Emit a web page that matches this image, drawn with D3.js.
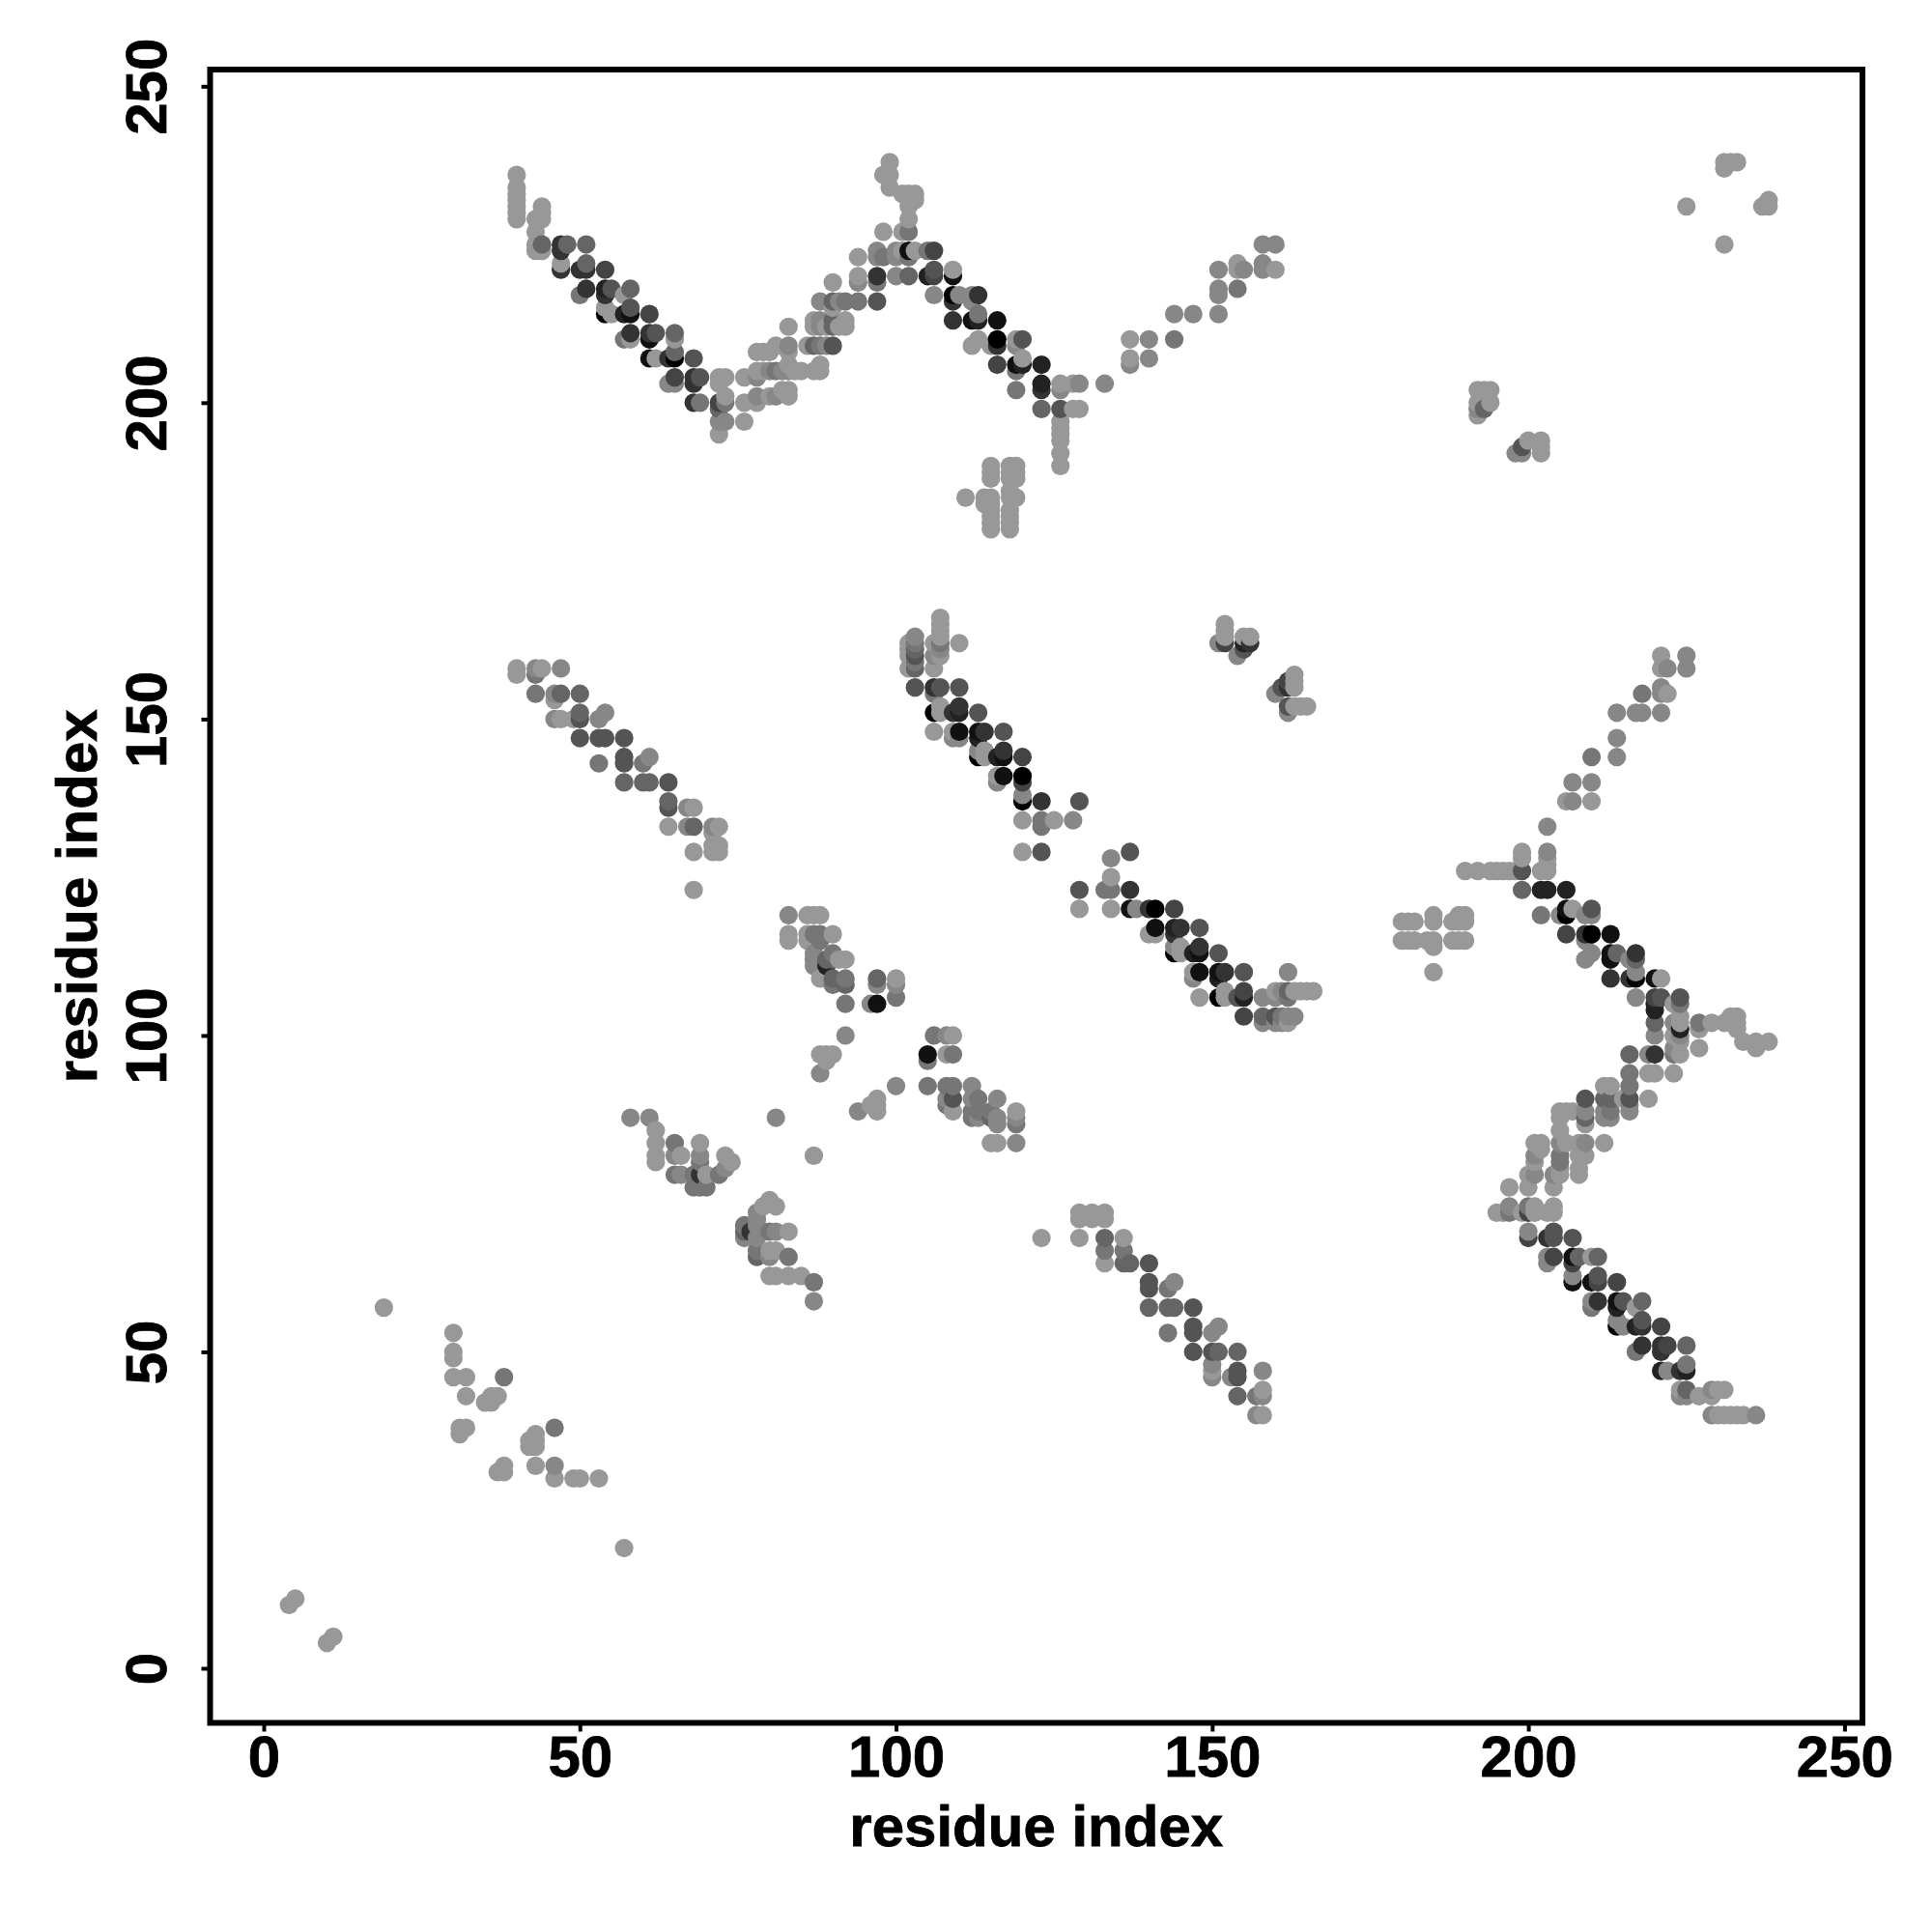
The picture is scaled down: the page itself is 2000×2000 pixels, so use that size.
<!DOCTYPE html>
<html><head><meta charset="UTF-8"><title>residue contacts</title>
<script src="https://cdn.jsdelivr.net/npm/d3@7/dist/d3.min.js"></script>
<style>
  body, html { margin: 0; padding: 0; background: #fff; }
  text { font-family: "Liberation Sans", Arial, sans-serif; font-weight: bold; fill: #000; stroke: #000; stroke-width: 0.8px; }
</style>
</head>
<body>
<div id="chart"></div>
<script>
// every contact is [residue i, residue j, strength]; strength 0 is weak, 9 is strong
const axisLabel = "residue index";
const tickValues = [0, 50, 100, 150, 200, 250];

const upperLeftArm = [
  [40,236,0],[40,234,0],[40,233,0],[40,232,0],[40,231,0],[40,230,0],[40,229,0],
  [43,229,0],[43,227,0],[43,225,0],[43,224,0],
  [44,231,0],[44,230,0],[44,229,0],[44,225,3],[44,224,0],
  [47,225,6],[47,224,6],[47,222,0],[47,221,6],[48,225,3],[51,225,3],
  [50,221,6],[51,222,3],[51,221,6],[54,221,5],
  [50,217,2],[51,218,6],[54,218,7],[55,218,4],[58,218,3],[54,217,6],[57,217,0],
  [54,215,0],[55,214,0],[54,214,9],[57,214,7],[58,214,8],[58,215,4],[61,214,5],
  [57,210,2],[58,211,6],[58,210,0],[61,211,6],[62,211,4],[61,210,8],[65,211,3],[65,210,0],
  [65,208,3],[65,207,9],[64,207,6],[61,207,8],[62,207,0],[68,207,4],
  [64,203,1],[65,203,1],[65,204,5],[68,204,6],[69,204,4],[68,203,6],[68,200,6],[69,200,2]
];

const upperValley = [
  [72,204,0],[73,204,0],[72,203,0],[73,201,0],[72,200,5],[73,200,2],[72,199,3],
  [72,197,1],[73,197,1],[72,195,0],[76,204,0],[76,200,0],[76,197,0],
  [78,208,0],[79,208,0],[80,208,0],[81,209,0],[83,212,0],[83,209,1],[83,208,0],
  [78,205,0],[78,204,1],[79,205,0],[80,205,1],[81,205,2],[82,205,1],[83,205,1],[83,206,0],
  [84,205,0],[85,205,0],[87,205,0],[88,205,0],[88,206,0],
  [78,201,1],[78,200,0],[80,201,0],[81,201,1],[82,202,0],[83,201,0],[83,202,0],
  [86,209,0],[87,209,3],[88,209,2],[89,209,1],[90,209,4],
  [87,213,0],[87,212,0],[88,213,1],[88,212,1],[89,212,0],[90,213,3],[90,212,3],
  [92,213,0],[92,212,0],[91,212,0],
  [88,216,1],[90,216,3],[91,216,1],[92,216,2],[94,216,2],[97,216,4],[90,219,0],[90,215,0],
  [94,223,0],[94,220,0],[94,219,1],[97,220,6],[97,219,2],[97,224,1],[97,223,1],[98,223,2],
  [98,227,0],[99,238,0],[98,236,0],[99,236,0],[99,234,0],
  [101,233,0],[102,233,0],[103,233,0],[103,232,0],[102,232,0],[102,231,0],
  [102,229,0],[102,227,2],[101,227,0]
];

const upperRightArm = [
  [100,224,1],[100,223,1],[101,224,0],[102,224,8],[103,224,0],[102,223,2],[105,224,2],[106,224,5],
  [100,220,1],[102,220,3],[105,220,7],[106,221,4],[106,220,5],[109,221,0],[109,220,8],
  [106,217,1],[109,217,9],[109,216,6],[110,217,1],[112,217,1],[113,217,6],
  [109,213,6],[112,213,8],[113,213,7],[113,214,2],[112,216,1],[116,213,8],
  [112,209,0],[113,210,0],[115,209,0],[116,210,9],[116,209,6],
  [119,210,0],[120,210,4],[119,209,1],[116,206,5],[119,206,8],[120,207,0],[120,206,7],
  [119,205,2],[119,202,2],[123,206,7],[123,203,7],[123,202,6],[123,199,3],
  [126,203,0],[126,202,1],[128,203,0],[129,203,1],[133,203,1],[126,199,4],[128,199,0],[129,199,0],
  [126,197,0],[126,196,0],[126,195,0],[126,194,0],[126,192,0],[126,190,0],
  [137,210,0],[140,210,1],[144,210,2],[137,207,0],[137,206,1],[140,207,1],
  [144,214,1],[147,214,1],[151,214,1],[151,218,1],[151,217,1],[154,218,2],[151,221,1],
  [154,222,0],[154,221,0],[155,221,1],[158,222,1],[158,221,1],[160,221,0],[158,225,1],[160,225,1]
];

const upperPatch = [
  [111,185,0],[114,185,0],[115,185,0],[114,184,0],[115,184,0],
  [115,190,0],[115,189,0],[115,188,0],[118,190,0],[119,190,0],[118,189,0],[119,189,0],[118,188,0],[119,188,0],
  [118,186,0],[118,185,0],[119,185,0],[115,183,0],[115,182,0],[115,181,0],[115,180,0],
  [118,183,0],[118,182,0],[118,181,0],[118,180,0]
];

const farCorner = [
  [225,231,0],[231,225,0],[231,238,0],[231,237,0],[232,238,0],[233,238,0],
  [237,231,0],[238,231,0],[238,232,0],
  [192,202,0],[193,202,0],[194,202,0],[194,200,0],[192,200,0],[192,199,1],[192,198,0],[193,199,3],
  [198,192,1],[199,192,1],[199,193,4],[200,194,0],[202,194,0],[202,193,0],[202,192,0]
];

const midLeftDiag = [
  [40,158,0],[40,157,0],[43,158,1],[43,157,2],[44,158,0],[47,158,1],
  [43,154,2],[46,154,1],[47,154,3],[46,153,0],[50,154,3],
  [46,150,1],[47,150,0],[49,150,0],[50,151,3],[50,150,4],[53,150,1],[54,151,1],
  [50,147,4],[53,147,4],[54,147,4],[57,147,4],
  [53,143,2],[57,144,4],[57,143,4],[60,143,2],[61,144,1],
  [57,140,3],[60,140,3],[61,140,3],[64,140,4],
  [64,137,3],[64,136,4],[67,136,1],[68,136,0],
  [64,133,0],[67,133,1],[68,133,3],[71,133,1],[72,133,0],[71,132,0],[72,130,0],[72,129,0],[71,130,0],[71,129,0],
  [68,129,0],[68,123,0]
];

const centreLeftPatch = [
  [83,119,1],[86,119,0],[87,119,0],[88,119,0],[83,116,0],[83,115,0],[86,116,0],[86,115,0],
  [87,116,2],[88,116,2],[88,115,2],[90,116,0],
  [87,113,1],[87,112,1],[87,111,1],[90,113,2],[89,112,3],[90,112,3],[89,111,7],[92,112,0],[91,112,0],
  [88,109,0],[90,109,3],[90,108,2],[92,109,2],[92,108,3],
  [97,109,3],[97,108,1],[100,109,0],[100,108,1],[100,106,2],
  [92,105,2],[96,105,1],[97,105,8],[92,100,1],
  [88,97,0],[89,97,0],[90,97,0],[89,96,0],[88,94,1],
  [100,92,1],[94,88,1],[96,89,0],[97,90,0],[97,89,0],[97,88,0],
  [106,100,2],[108,100,1],[109,100,0],[105,97,8],[105,96,2],[108,97,0],[109,97,2],
  [105,92,2],[108,92,2],[109,92,2],[108,90,1],[109,90,4],[108,89,2],[109,88,0]
];

const centreDiagLower = [
  [112,92,1],[112,90,1],[113,90,2],[116,90,1],[112,88,2],[113,88,2],[115,88,2],
  [112,87,2],[113,87,1],[116,87,1],[115,87,3],[119,88,0],[119,87,1],[119,86,2],[116,86,1],
  [115,83,0],[116,83,0],[119,83,1]
];

const lowerLeftPatch = [
  [58,87,1],[61,87,1],[62,85,0],[62,83,0],[62,81,0],[62,80,0],
  [65,83,2],[65,81,1],[66,81,0],[65,78,2],[66,78,1],
  [69,83,0],[69,81,1],[69,80,2],[68,78,2],[69,78,6],[68,76,2],[69,76,2],[70,76,2],
  [70,78,0],[72,78,2],[73,81,0],[74,80,0],[73,79,1],
  [81,87,1],[87,81,0],
  [80,74,0],[79,73,0],[81,73,0],[78,72,1],[78,71,1],[76,70,2],[76,69,3],[76,68,1],
  [77,69,6],[78,70,1],[78,68,1],[80,69,2],[81,69,1],[83,69,0],
  [78,66,2],[78,65,3],[80,66,0],[81,66,0],[80,65,1],[83,65,2],
  [80,62,0],[81,62,0],[83,62,0],[85,62,0],[87,61,2],[87,58,1]
];

const bottomLeftScatter = [
  [19,57,0],[30,53,0],[30,50,0],[30,49,0],[30,46,0],[32,46,0],[38,46,2],[32,43,0],[37,43,0],
  [35,42,0],[36,42,0],[36,43,0],[32,38,0],[31,38,0],[31,37,0],[38,32,0],[37,31,0],[38,31,0],
  [43,37,0],[42,36,0],[43,36,0],[42,35,0],[43,35,0],[46,38,2],[43,32,0],[46,32,1],[46,30,0],
  [49,30,0],[50,30,0],[53,30,0],[57,19,0],[5,11,0],[4,10,0],[11,5,0],[10,4,0]
];

const lowerMidDiag = [
  [129,72,0],[131,72,0],[133,72,0],[129,71,0],[131,71,0],[133,71,0],[123,68,0],[129,68,0],
  [133,68,3],[133,66,2],[136,68,0],[136,66,2],[133,64,0],[136,64,3],[137,64,3],[140,64,4],
  [140,61,4],[140,60,4],[143,60,2],[144,61,1],[140,57,3],[143,57,3],[144,57,3],[147,57,4],
  [143,53,2],[147,54,4],[147,53,4],[150,53,1],[151,54,1],
  [147,50,4],[150,50,4],[151,50,3],[154,50,3],[150,48,1],[150,47,0],[150,46,1],[153,46,1],
  [154,47,4],[154,46,4],[158,47,1],[154,43,3],[157,43,2],[158,44,0],[158,43,1],[157,40,1],[158,40,0]
];

const centreDiagUpper = [
  [107,166,0],[107,165,0],[107,164,0],[107,163,0],[107,162,2],[107,161,1],
  [103,163,1],[103,162,2],[103,161,3],[103,160,4],[103,159,2],
  [102,162,0],[102,161,0],[102,160,0],[102,158,0],[103,158,3],
  [106,162,0],[106,160,1],[106,158,0],[107,160,0],[110,162,0],
  [103,155,4],[106,155,6],[107,155,4],[110,155,4],[106,154,2],
  [106,151,9],[107,152,0],[107,151,0],[109,151,6],[110,152,6],[110,151,7],[113,151,4],
  [106,148,0],[109,148,0],[110,148,8],[110,147,1],[109,147,1],[113,148,8],[114,148,6],[113,147,7],[117,148,4],
  [113,144,9],[113,145,1],[114,145,0],[114,144,0],[116,144,7],[117,145,6],[117,144,8],[120,144,5],
  [116,141,0],[116,140,1],[117,141,8],[120,141,9],[120,140,5],
  [120,138,1],[120,137,9],[123,137,6],[129,137,4],
  [120,134,0],[123,134,2],[123,133,2],[125,134,0],[128,134,1],[120,129,0],[123,129,4]
];

const centreDiagRun = [
  [134,128,1],[137,129,4],[134,125,0],[129,123,4],[133,123,2],[134,123,2],[137,123,6],
  [129,120,0],[134,120,0],[137,120,8],[138,120,1],[140,120,6],[141,120,9],[144,120,5],
  [141,117,8],[140,116,0],[141,116,0],[144,117,7],[145,117,6],[144,116,6],[148,117,4],
  [144,113,9],[144,114,1],[145,114,0],[145,113,0],[147,113,7],[148,114,6],[148,113,8],[151,113,4],
  [147,110,0],[147,109,1],[148,110,8],[151,110,8],[152,110,6],[151,109,7],[155,110,4],
  [148,106,0],[151,106,9],[152,107,0],[152,106,0],[154,106,4],[155,107,5],[155,106,7],
  [155,103,5],[158,106,1],[158,103,3],[158,102,1],[160,107,0],[160,106,1],[160,103,4],[160,102,1],
  [161,107,1],[161,103,2],[161,102,1],[162,107,3],[162,106,2],[162,110,1],[162,103,1],[162,102,0],
  [163,107,0],[163,103,1],[164,107,0],[165,107,0],[166,107,0],
  [152,165,0],[152,164,0],[152,163,0],[152,162,5],[151,162,1],[154,160,1],[155,161,4],
  [155,162,7],[156,162,6],[155,163,0],[156,163,0],
  [160,154,1],[161,155,4],[162,155,6],[162,156,5],[163,157,0],[163,156,0],[163,155,0],
  [162,152,4],[162,151,1],[163,152,0],[164,152,0],[165,152,0]
];

const rightUpperArm = [
  [221,160,0],[225,160,1],[221,158,0],[222,158,1],[225,158,1],
  [221,155,1],[218,154,2],[221,154,1],[222,154,0],[214,151,1],[217,151,1],[218,151,1],[221,151,1],
  [214,147,1],[210,144,2],[214,144,1],[207,140,1],[210,140,1],[206,137,0],[207,137,1],[210,137,0],[203,133,1],
  [199,129,0],[199,128,0],[203,129,1],[203,128,0],
  [190,126,0],[192,126,0],[194,126,0],[195,126,0],[196,126,0],[197,126,0],[198,126,0],[199,126,4],
  [202,126,0],[203,126,0],[203,127,0],
  [180,118,0],[181,118,0],[182,118,0],[185,119,0],[185,118,0],[188,118,0],[189,119,0],[189,118,0],[190,119,0],[190,118,0],
  [180,115,0],[181,115,0],[182,115,0],[184,115,0],[185,115,0],[185,114,0],[188,115,0],[189,115,0],[190,115,0],[185,110,0]
];

const rightChevronTop = [
  [199,123,3],[202,123,7],[203,123,7],[206,123,7],
  [202,119,2],[205,119,1],[206,120,8],[206,119,9],[207,120,0],[209,119,1],[210,120,4],[210,119,1],
  [206,116,5],[209,116,6],[210,116,9],[213,116,8],[209,115,1],
  [209,112,1],[210,113,1],[213,113,8],[213,112,8],[214,113,3],[216,112,1],[217,113,6],[217,112,3],
  [213,109,6],[216,109,6],[217,110,1],[217,109,9],[220,109,8],[221,109,0],
  [217,106,1],[220,106,5],[221,106,4],[220,105,7],[220,104,7],[223,105,0],[224,106,4],[224,105,2],
  [220,102,3],[220,100,1],[223,102,1],[224,103,0],[224,102,0],[224,101,7],[224,100,1],[223,100,0],[224,99,0],
  [227,102,2],[227,101,0],[229,102,0],[231,102,0],[232,103,0],[233,103,0],[233,102,0],[233,101,0],
  [234,99,0],[236,99,0],[236,98,0],[238,99,0],[227,98,0],[223,98,1],[224,97,0],[223,97,2],
  [216,97,3],[219,97,1],[220,97,6],[216,94,2],[219,94,0],[220,94,0],[223,94,0]
];

const rightChevronMid = [
  [216,92,2],[216,90,4],[216,89,1],[216,88,1],[219,90,0],
  [213,92,0],[212,92,0],[213,90,3],[212,90,3],[213,88,2],[213,87,1],[212,88,1],[212,87,1],[215,90,0],
  [209,90,4],[209,88,1],[209,87,3],[209,86,0],
  [205,88,0],[206,88,0],[207,88,0],[205,87,0],[205,85,0],
  [201,83,0],[202,83,0],[205,83,1],[206,83,0],[208,83,0],[209,83,1],[212,83,0],
  [201,81,1],[205,81,2],[205,80,2],[208,81,0],[209,81,0],[201,80,0],[202,82,0],[208,79,0],[208,78,0],
  [205,79,0],[205,78,0],[204,78,1],[200,78,0],[201,78,1],[200,76,0],[204,76,0],[197,76,0],
  [195,72,0],[196,72,0],[197,73,1],[197,72,2],[200,73,2],[200,72,5],[201,73,0],[201,72,0],
  [203,72,0],[204,73,0],[204,72,0],[199,72,0]
];

const rightChevronLow = [
  [200,69,1],[200,68,5],[203,68,6],[204,69,4],[204,68,4],[207,68,4],
  [203,65,1],[203,64,1],[204,65,5],[207,65,8],[208,65,3],[207,64,5],[210,65,0],[211,65,3],
  [207,62,1],[207,61,8],[210,61,8],[211,62,4],[211,61,5],[214,61,5],
  [210,58,1],[210,57,2],[211,58,6],[214,58,8],[215,58,4],[214,57,7],[218,58,3],
  [217,57,0],[214,55,1],[215,54,1],[214,54,9],[217,54,7],[218,55,4],[218,54,6],[221,54,5],
  [217,50,2],[218,51,6],[221,51,6],[222,51,5],[221,50,6],[225,51,3],
  [221,47,7],[222,47,1],[224,47,6],[225,48,2],[225,47,7],
  [224,44,0],[225,44,3],[224,43,1],[225,43,1],[227,43,0],[229,44,1],[229,43,0],[230,44,0],[231,44,0],
  [229,40,1],[230,40,0],[231,40,0],[232,40,0],[233,40,0],[234,40,0],[236,40,1]
];

const contacts = [].concat(
  upperLeftArm, upperValley, upperRightArm, upperPatch, farCorner, midLeftDiag, centreLeftPatch,
  centreDiagLower, lowerLeftPatch, bottomLeftScatter, lowerMidDiag, centreDiagUpper, centreDiagRun,
  rightUpperArm, rightChevronTop, rightChevronMid, rightChevronLow
).sort((a, b) => a[0] - b[0] || a[1] - b[1]);

const svg = d3.select("#chart").append("svg")
  .attr("width", 2000)
  .attr("height", 2000)
  .style("display", "block");

const frame = { left: 217.5, right: 1928, top: 72, bottom: 1783.5 };

const x = d3.scaleLinear().domain([0, 250]).range([273, 1909.4]);
const y = d3.scaleLinear().domain([0, 250]).range([1727, 89.3]);
const shade = d3.scaleLinear().domain([0, 9]).range(["#989898", "#000000"]);

svg.append("g").selectAll("circle")
  .data(contacts)
  .enter().append("circle")
  .attr("cx", d => x(d[0]))
  .attr("cy", d => y(d[1]))
  .attr("r", 9.6)
  .attr("fill", d => shade(d[2]));

const xAxis = svg.append("g")
  .attr("transform", `translate(0,${frame.bottom})`)
  .call(d3.axisBottom(x).tickValues(tickValues).tickSize(9));
xAxis.select(".domain").remove();
xAxis.selectAll("line").attr("stroke", "#000").attr("stroke-width", 4);
xAxis.selectAll("text")
  .attr("y", 55.5).attr("dy", 0)
  .style("font-size", "60px");

const yAxis = svg.append("g")
  .attr("transform", `translate(${frame.left},0)`)
  .call(d3.axisLeft(y).tickValues(tickValues).tickSize(9));
yAxis.select(".domain").remove();
yAxis.selectAll("line").attr("stroke", "#000").attr("stroke-width", 4);
yAxis.selectAll("text")
  .attr("x", 0).attr("dy", 0).attr("y", -45.5)
  .attr("transform", "rotate(-90)")
  .attr("text-anchor", "middle")
  .style("font-size", "60px");

svg.append("rect")
  .attr("x", frame.left)
  .attr("y", frame.top)
  .attr("width", frame.right - frame.left)
  .attr("height", frame.bottom - frame.top)
  .attr("fill", "none")
  .attr("stroke", "#000")
  .attr("stroke-width", 6);

svg.append("text")
  .attr("x", (frame.left + frame.right) / 2)
  .attr("y", 1911)
  .attr("text-anchor", "middle")
  .style("font-size", "60px")
  .text(axisLabel);

svg.append("text")
  .attr("transform", `translate(100,${(frame.top + frame.bottom) / 2}) rotate(-90)`)
  .attr("text-anchor", "middle")
  .style("font-size", "60px")
  .text(axisLabel);
</script>
</body></html>
